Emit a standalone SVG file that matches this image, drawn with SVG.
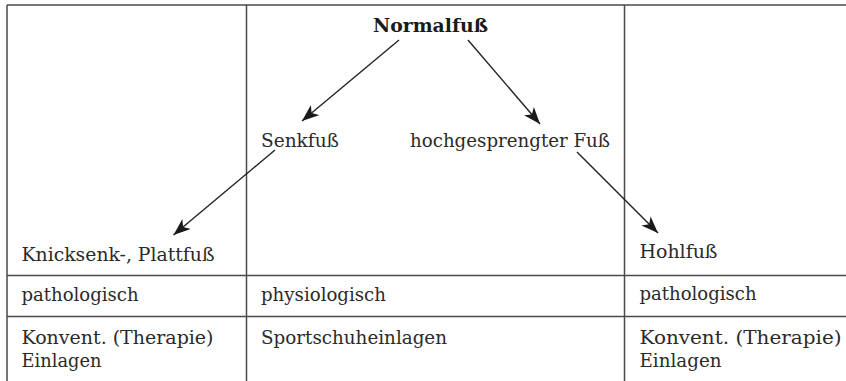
<svg xmlns="http://www.w3.org/2000/svg" width="846" height="381" viewBox="0 0 846 381">
<style>
.grid{stroke:#4a4a4a;stroke-width:1.5;fill:none}
.t{font-family:"DejaVu Serif","Liberation Serif",serif;font-size:19px;fill:#2a2a2a}
.b{font-weight:bold;fill:#1a1a1a}
.arr{stroke:#222;stroke-width:1.4;fill:none;marker-end:url(#ah)}
</style>
<defs>
<marker id="ah" viewBox="0 0 17 13" refX="17" refY="6.5" markerWidth="17" markerHeight="13" markerUnits="userSpaceOnUse" orient="auto">
<path d="M0,0 L17,6.5 L0,13 L4.5,6.5 Z" fill="#1a1a1a"/>
</marker>
</defs>
<rect width="846" height="381" fill="#fff"/>
<g id="table">
<line class="grid" x1="7" y1="5" x2="846" y2="5"/>
<line class="grid" x1="7" y1="5" x2="7" y2="381"/>
<line class="grid" x1="246.5" y1="5" x2="246.5" y2="381"/>
<line class="grid" x1="624.5" y1="5" x2="624.5" y2="381"/>
<line class="grid" x1="7" y1="275.5" x2="846" y2="275.5"/>
<line class="grid" x1="7" y1="316.5" x2="846" y2="316.5"/>
</g>
<g id="connectors">
<line class="arr" x1="399" y1="40" x2="302" y2="121"/>
<line class="arr" x1="468" y1="40" x2="540" y2="124"/>
<line class="arr" x1="275" y1="150" x2="173.5" y2="235"/>
<line class="arr" x1="577" y1="152" x2="658" y2="233"/>
</g>
<g id="normalfuss"><text class="t b" x="373" y="32" textLength="115" lengthAdjust="spacingAndGlyphs">Normalfuß</text></g>
<g id="senkfuss"><text class="t" x="261" y="147" textLength="78" lengthAdjust="spacingAndGlyphs">Senkfuß</text></g>
<g id="hochgesprengter"><text class="t" x="410" y="147" textLength="200" lengthAdjust="spacingAndGlyphs">hochgesprengter Fuß</text></g>
<g id="knicksenk"><text class="t" x="21.5" y="260.5" textLength="193" lengthAdjust="spacingAndGlyphs">Knicksenk-, Plattfuß</text></g>
<g id="hohlfuss"><text class="t" x="639.5" y="257.5" textLength="78" lengthAdjust="spacingAndGlyphs">Hohlfuß</text></g>
<g id="row-bewertung">
<text class="t" x="21.5" y="300.5" textLength="117" lengthAdjust="spacingAndGlyphs">pathologisch</text>
<text class="t" x="261" y="300.5" textLength="125" lengthAdjust="spacingAndGlyphs">physiologisch</text>
<text class="t" x="639.5" y="300" textLength="117" lengthAdjust="spacingAndGlyphs">pathologisch</text>
</g>
<g id="row-therapie">
<text class="t" x="21.5" y="343.5" textLength="192" lengthAdjust="spacingAndGlyphs">Konvent. (Therapie)</text>
<text class="t" x="21.5" y="366.5" textLength="80" lengthAdjust="spacingAndGlyphs">Einlagen</text>
<text class="t" x="261" y="343.5" textLength="186" lengthAdjust="spacingAndGlyphs">Sportschuheinlagen</text>
<text class="t" x="639.5" y="343.5" textLength="202" lengthAdjust="spacingAndGlyphs">Konvent. (Therapie)</text>
<text class="t" x="639.5" y="366.5" textLength="82" lengthAdjust="spacingAndGlyphs">Einlagen</text>
</g>
</svg>
